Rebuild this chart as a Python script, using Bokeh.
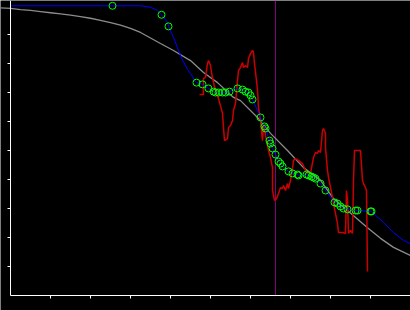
from bokeh.plotting import figure
from bokeh.models import FixedTicker, CustomJSTickFormatter, Range1d
from bokeh.embed import file_html
from bokeh.resources import INLINE

# ---- data ----
x_ticks = [1, 2, 3, 4, 5, 6, 7, 8, 9]
y_ticks = [1, 2, 3, 4, 5, 6, 7, 8, 9]

marker_x = 6.625

ref_x = [-0.25, 0.0, 0.25, 0.5, 0.75, 1.0, 1.25, 1.5, 1.75, 2.0, 2.25, 2.5, 2.75,
         3.0, 3.25, 3.5, 3.75, 4.075, 4.5, 4.825, 5.175, 5.575, 5.75, 6.175, 6.5,
         6.925, 7.325, 7.75, 8.075, 8.425, 8.925, 9.25, 9.575, 10.0]
ref_y = [9.92, 9.90, 9.86, 9.83, 9.79, 9.75, 9.71, 9.67, 9.62, 9.56, 9.49, 9.41, 9.32,
         9.21, 9.07, 8.88, 8.69, 8.45, 8.10, 7.69, 7.34, 6.83, 6.72, 6.14, 5.59,
         5.0, 4.41, 3.97, 3.34, 2.93, 2.34, 1.97, 1.66, 1.38]

obs_x = [2.55, 3.775, 3.95, 4.65, 4.8, 4.95, 5.075, 5.125, 5.2, 5.3, 5.375, 5.475,
         5.675, 5.8, 5.875, 5.95, 6.0, 6.05, 6.25, 6.35, 6.375, 6.475, 6.5, 6.55,
         6.625, 6.7, 6.75, 6.8, 6.95, 7.05, 7.175, 7.2, 7.4, 7.45, 7.525, 7.575,
         7.625, 7.75, 7.875, 8.1, 8.175, 8.25, 8.325, 8.425, 8.625, 8.675, 9.0, 9.025]
obs_y = [9.99, 9.68, 9.28, 7.34, 7.28, 7.14, 7.03, 7.0, 7.0, 7.0, 7.0, 7.03,
         7.14, 7.10, 7.03, 7.0, 6.90, 6.76, 6.14, 5.83, 5.76, 5.34, 5.24, 5.07,
         4.86, 4.62, 4.55, 4.45, 4.28, 4.21, 4.17, 4.14, 4.17, 4.14, 4.10, 4.07,
         4.03, 3.86, 3.62, 3.21, 3.17, 3.07, 3.0, 2.97, 2.93, 2.93, 2.90, 2.90]

fit_extra_x = [0.0, 3.25, 3.5, 3.675, 3.925, 4.075, 4.2, 4.3, 4.425, 4.525, 4.6,
               9.325, 9.575, 9.825, 10.0]
fit_extra_y = [9.99, 9.99, 9.94, 9.83, 9.42, 8.90, 8.45, 8.12, 7.80, 7.60, 7.42,
               2.52, 2.17, 1.90, 1.79]

sig_x = [4.725, 4.825, 4.825, 4.875, 4.925, 4.95, 5.0, 5.025, 5.075, 5.125, 5.2, 5.3,
         5.325, 5.35, 5.425, 5.45, 5.5, 5.55, 5.575, 5.625, 5.675, 5.7, 5.75, 5.8,
         5.825, 5.875, 5.925, 5.95, 6.0, 6.05, 6.075, 6.1, 6.15, 6.175, 6.2, 6.25,
         6.3, 6.325, 6.375, 6.45, 6.5, 6.55, 6.55, 6.6, 6.65, 6.7, 6.75, 6.8,
         6.825, 6.875, 6.925, 6.95, 7.0, 7.05, 7.075, 7.125, 7.2, 7.3, 7.375, 7.425,
         7.45, 7.5, 7.575, 7.625, 7.675, 7.7, 7.75, 7.8, 7.825, 7.875, 7.875, 7.925,
         7.95, 8.0, 8.05, 8.075, 8.125, 8.175, 8.2, 8.3, 8.375, 8.4, 8.425, 8.45,
         8.5, 8.55, 8.575, 8.6, 8.75, 8.8, 8.825, 8.875, 8.9, 8.925]
sig_y = [6.93, 6.93, 7.48, 7.52, 8.0, 8.10, 7.93, 7.69, 7.34, 7.07, 6.79, 6.28,
         5.79, 5.34, 5.41, 5.79, 5.86, 6.03, 6.38, 6.62, 7.41, 7.76, 7.86, 8.03,
         7.86, 7.93, 7.86, 8.17, 8.34, 8.45, 8.38, 8.0, 7.41, 7.07, 6.48, 6.03,
         5.34, 5.93, 5.52, 5.0, 4.76, 4.41, 3.62, 3.28, 3.34, 3.52, 3.72, 3.69,
         3.79, 3.62, 3.86, 3.69, 3.97, 4.38, 4.66, 4.72, 4.66, 4.55, 4.31, 4.21,
         4.24, 4.21, 4.76, 4.93, 4.90, 5.0, 4.93, 5.69, 5.76, 5.59, 5.10, 4.31,
         4.07, 3.72, 3.38, 3.17, 2.83, 2.48, 2.17, 2.17, 2.14, 3.62, 3.28, 2.14,
         2.24, 2.14, 3.97, 5.0, 5.0, 3.97, 3.86, 3.72, 3.62, 0.83]

fit_pts = sorted(zip(obs_x + fit_extra_x, obs_y + fit_extra_y))
fit_x = [a for a, b in fit_pts]
fit_y = [b for a, b in fit_pts]

y_top = 295 / 29

# ---- figure ----
p = figure(width=410, height=310, output_backend="svg", toolbar_location=None,
           x_range=Range1d(-0.25, 10.0), y_range=Range1d(-15 / 29, y_top),
           min_border=0, background_fill_color="black", border_fill_color="black")
p.outline_line_color = None
p.grid.visible = False

for ax, ticks, bnds in ((p.xaxis, x_ticks, (0, 10)), (p.yaxis, y_ticks, (0, y_top))):
    ax.fixed_location = 0
    ax.bounds = bnds
    ax.ticker = FixedTicker(ticks=ticks)
    ax.formatter = CustomJSTickFormatter(code="return ''")
    ax.axis_line_color = "white"
    ax.axis_line_width = 1
    ax.major_tick_line_color = "white"
    ax.major_tick_in = 0
    ax.major_tick_out = 3
    ax.minor_tick_line_color = None
    ax.major_label_standoff = 0

p.segment(x0=[marker_x], y0=[0], x1=[marker_x], y1=[y_top],
          line_color="#800080", line_width=1)
p.line(ref_x, ref_y, line_color="#8c8c8c", line_width=1.3)
p.line(sig_x, sig_y, line_color="#cc0000", line_width=1.5)
p.line(fit_x, fit_y, line_color="#0000ff", line_width=1)
p.scatter(obs_x, obs_y, marker="circle", size=7, fill_color=None,
          line_color="#00ff00", line_width=1)

open("out.html", "w").write(file_html(p, INLINE))
